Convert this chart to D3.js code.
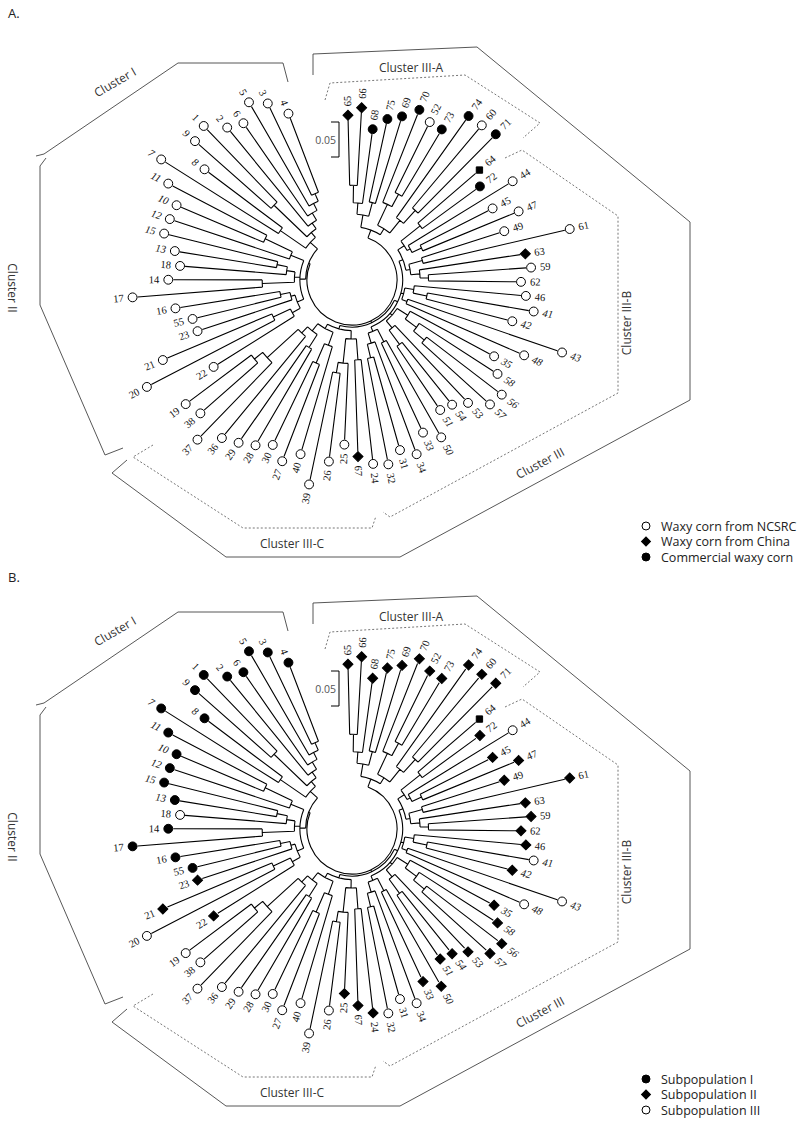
<!DOCTYPE html>
<html>
<head>
<meta charset="utf-8">
<script src="https://cdn.jsdelivr.net/npm/d3@7"></script>
<style>
  body { margin: 0; background: #fff; }
  svg { display: block; }
</style>
</head>
<body>
<svg id="chart" width="806" height="1127"></svg>
<script>
// Accessions in angular order, clockwise from the top of the tree
const leafLabels = [65, 66, 68, 75, 69, 70, 52, 73, 74, 60, 71, 64, 72, 44, 45, 47, 49, 61, 63, 59,
  62, 46, 41, 42, 43, 48, 35, 58, 56, 57, 53, 54, 51, 50, 33, 34, 31, 32, 24, 67,
  25, 26, 39, 40, 27, 30, 28, 29, 36, 37, 38, 19, 22, 20, 21, 23, 55, 16, 17, 14,
  18, 13, 15, 12, 10, 11, 7, 8, 9, 1, 2, 6, 5, 3, 4];
// Distance of each accession from the root (same order as leafLabels)
const leafDist = [0.164, 0.175, 0.146, 0.164, 0.173, 0.190, 0.180, 0.179, 0.216, 0.217, 0.221, 0.169, 0.155, 0.198, 0.154, 0.186, 0.157, 0.248, 0.179, 0.185,
  0.170, 0.178, 0.192, 0.165, 0.246, 0.197, 0.159, 0.176, 0.198, 0.194, 0.170, 0.157, 0.153, 0.187, 0.169, 0.194, 0.181, 0.197, 0.193, 0.181,
  0.164, 0.190, 0.227, 0.188, 0.206, 0.190, 0.202, 0.212, 0.221, 0.246, 0.217, 0.225, 0.162, 0.259, 0.222, 0.161, 0.163, 0.184, 0.243, 0.191,
  0.175, 0.185, 0.205, 0.203, 0.201, 0.225, 0.251, 0.192, 0.228, 0.234, 0.210, 0.201, 0.222, 0.208, 0.183];
// Tree topology: [node distance from root, ...children]; numbers are accessions
const clades = [0,
  [0.012,                                                   // Cluster III-A
    [0.030, [0.046, [0.071, 65, 66], 68], [0.050, 75, 69]],
    [0.022, [0.055, 70, [0.075, 52, 73]], [0.045, 74, [0.070, 60, 71]]]],
  [0.003,
    [0.008,                                                 // Cluster III-B
      [0.014, [0.025, [0.060, 64, 72], [0.030, 44, [0.045, 45, 47]]],
              [0.020, [0.040, 49, 61], [0.033, 63, [0.045, 59, 62]]]],
      [0.012, [0.025, 46, [0.045, 41, 42]], [0.020, 43, 48]],
      [0.012, [0.030, 35, [0.050, 58, [0.070, 56, 57]]], [0.025, 53, [0.050, 54, 51]]],
      [0.015, [0.035, 50, 33], [0.030, 34, [0.050, 31, 32]]]],
    [0.008,                                                 // Cluster III-C
      [0.020, [0.050, 24, 67], [0.055, 25, [0.070, 26, 39]]],
      [0.015, [0.035, 40, [0.065, 27, 30]],
              [0.028, [0.050, 28, 29], [0.040, 36, [0.100, 37, [0.115, 38, 19]]]]]]],
  [0.002,
    [0.010,                                                 // Cluster II
      [0.020, [0.033, 22, [0.060, 20, 21]], [0.026, 23, [0.040, 55, 16]]],
      [0.018, [0.064, 17, 14], [0.030, 18, [0.045, 13, 15]]],
      [0.030, 12, [0.073, 10, 11]]],
    [0.016,                                                 // Cluster I
      [0.060, 7, 8],
      [0.025, [0.090, 9, 1], [0.035, 2, [0.047, 6, [0.058, 5, [0.070, 3, 4]]]]]]]
];
// Panel A groups
const ncsrc = [1, 2, 3, 4, 5, 6, 7, 8, 9, 10, 11, 12, 13, 14, 15, 16, 17, 18, 19, 20, 21, 22, 23, 24, 25, 26, 27, 28, 29, 30,
  31, 32, 33, 34, 35, 36, 37, 38, 39, 40, 41, 42, 43, 44, 45, 46, 47, 48, 49, 50, 51, 52, 53, 54, 55, 56, 57, 58, 59, 60, 61, 62];
const china = [63, 64, 65, 66, 67];
const commercial = [68, 69, 70, 71, 72, 73, 74, 75];
// Panel B groups
const subpop1 = [1, 2, 3, 4, 5, 6, 7, 8, 9, 10, 11, 12, 13, 14, 15, 16, 17, 55];
const subpop2 = [21, 22, 23, 24, 25, 33, 35, 42, 45, 46, 47, 49, 50, 51, 52, 53, 54, 56, 57, 58, 59, 60, 61, 62, 63, 64, 65, 66, 67,
  68, 69, 70, 71, 72, 73, 74, 75];
const subpop3 = [18, 19, 20, 26, 27, 28, 29, 30, 31, 32, 34, 36, 37, 38, 39, 40, 41, 43, 44, 48];
const italicLabels = [7, 8, 9, 10, 11, 12, 13, 15, 33, 35, 41, 42, 43, 48, 50, 51, 53, 54, 56, 57, 58];

const svg = d3.select("#chart");
const serif = "'Liberation Serif', 'DejaVu Serif', serif";
const sans = "'Open Sans', 'Noto Sans', sans-serif";

// Scales: leaf index -> angle, genetic distance -> radius
const angle = d3.scaleLinear().domain([0, leafLabels.length - 1]).range([-91.4, 249.1].map(d => d * Math.PI / 180));
const radius = d3.scaleLinear().domain([0, 0.05]).range([45, 80]);

// Build the hierarchy once
const root = d3.hierarchy(clades, d => Array.isArray(d) ? d.slice(1) : null);
root.eachAfter(n => {
  if (n.children) {
    n.dist = n.data[0];
    n.theta = d3.mean(n.children, c => c.theta);
  } else {
    const i = leafLabels.indexOf(n.data);
    n.dist = leafDist[i];
    n.theta = angle(i);
  }
});

// Bracket outlines relative to the tree centre [dx, dy]
const solidBrackets = [
  { name: "Cluster I", pts: [[-64, -198], [-69, -217], [-174, -217], [-308, -126], [-316, -124]], label: [-237, -198], rot: -30 },
  { name: "Cluster II", pts: [[-306, -122], [-312, -114], [-312, 25], [-247, 175], [-229, 168]], label: [-340, 8], rot: 90 },
  { name: "Cluster III", pts: [[-225, 180], [-240, 193], [-126, 277], [48, 277], [338, 120], [338, -58], [125, -233], [-39, -226], [-39, -205]], label: [188, 183], rot: -28 }
];
const dashedBrackets = [
  { name: "Cluster III-A", pts: [[-27, -180], [-22, -197], [113, -205], [188, -157], [171, -142]], label: [59, -213], rot: 0 },
  { name: "Cluster III-B", pts: [[153, -122], [170, -130], [266, -64], [266, 113], [38, 237], [31, 232]], label: [274, 43], rot: -90 },
  { name: "Cluster III-C", pts: [[-199, 165], [-219, 177], [-109, 248], [20, 248], [24, 236]], label: [-60, 263], rot: 0 }
];

function drawPanel(cx, cy, title, titleY, groups, legendY) {
  const g = svg.append("g");
  const pt = (r, t) => [cx + r * Math.cos(t), cy + r * Math.sin(t)];

  g.append("text").attr("x", 8).attr("y", titleY).text(title)
    .attr("font-family", sans).attr("font-size", 13).attr("fill", "#222");

  // Branches: radial segments plus arcs at each internal node
  const path = d3.path();
  root.descendants().forEach(n => {
    if (n.parent) {
      const [x0, y0] = pt(radius(n.parent.dist), n.theta);
      const [x1, y1] = pt(radius(n.dist), n.theta);
      path.moveTo(x0, y0); path.lineTo(x1, y1);
    }
    if (n.children) {
      const r = radius(n.dist);
      const [a0, a1] = d3.extent(n.children, c => c.theta);
      const [sx, sy] = pt(r, a0);
      path.moveTo(sx, sy); path.arc(cx, cy, r, a0, a1);
    }
  });
  g.append("path").attr("d", path.toString()).attr("fill", "none")
    .attr("stroke", "#000").attr("stroke-width", 1.1);

  // Leaf markers and labels
  root.leaves().forEach(n => {
    const r = radius(n.dist) + 5;
    const [x, y] = pt(r, n.theta);
    const grp = groups.find(gr => gr.ids.includes(n.data));
    const shape = n.data === 64 ? "square" : grp.shape;
    const sym = d3.symbol()
      .type(shape === "circle" ? d3.symbolCircle : d3.symbolSquare)
      .size(shape === "circle" ? 62 : shape === "square" ? 40 : 50);
    g.append("path").attr("d", sym())
      .attr("transform", `translate(${x},${y})` + (shape === "diamond" ? " rotate(45)" : ""))
      .attr("fill", grp.filled ? "#000" : "#fff")
      .attr("stroke", "#000").attr("stroke-width", 1);

    const deg = n.theta * 180 / Math.PI;
    const flip = deg > 90 && deg < 270;
    const [lx, ly] = pt(r + 9, n.theta);
    g.append("text")
      .attr("transform", `translate(${lx},${ly}) rotate(${flip ? deg - 180 : deg})`)
      .attr("text-anchor", flip ? "end" : "start")
      .attr("dominant-baseline", "central")
      .attr("font-family", serif).attr("font-size", 10.5)
      .attr("font-style", italicLabels.includes(n.data) ? "italic" : "normal")
      .attr("fill", "#111")
      .text(n.data);
  });

  // Scale bar
  const barTop = cy - 158, barLen = radius(0.05) - radius(0);
  g.append("path")
    .attr("d", `M${cx - 21},${barTop}H${cx - 13}V${barTop + barLen}H${cx - 21}`)
    .attr("fill", "none").attr("stroke", "#000").attr("stroke-width", 1);
  g.append("text").attr("x", cx - 16).attr("y", barTop + barLen / 2 + 4)
    .attr("text-anchor", "end").attr("font-family", sans).attr("font-size", 10.5)
    .attr("fill", "#555").text("0.05");

  // Cluster brackets
  const line = d3.line().x(d => cx + d[0]).y(d => cy + d[1]);
  solidBrackets.forEach(b => {
    g.append("path").attr("d", line(b.pts)).attr("fill", "none")
      .attr("stroke", "#444").attr("stroke-width", 0.9);
  });
  dashedBrackets.forEach(b => {
    g.append("path").attr("d", line(b.pts)).attr("fill", "none")
      .attr("stroke", "#666").attr("stroke-width", 0.9).attr("stroke-dasharray", "2,2");
  });
  solidBrackets.concat(dashedBrackets).forEach(b => {
    g.append("text")
      .attr("transform", `translate(${cx + b.label[0]},${cy + b.label[1]}) rotate(${b.rot})`)
      .attr("text-anchor", "middle").attr("dominant-baseline", "central")
      .attr("font-family", sans).attr("font-size", 12).attr("fill", "#333")
      .text(b.name);
  });

  // Legend
  groups.forEach((gr, i) => {
    const y = legendY + i * 15.5;
    const sym = d3.symbol().type(gr.shape === "circle" ? d3.symbolCircle : d3.symbolSquare)
      .size(gr.shape === "circle" ? 50 : 40);
    g.append("path").attr("d", sym())
      .attr("transform", `translate(646,${y})` + (gr.shape === "diamond" ? " rotate(45)" : ""))
      .attr("fill", gr.filled ? "#000" : "#fff").attr("stroke", "#000").attr("stroke-width", 1);
    g.append("text").attr("x", 661).attr("y", y).attr("dominant-baseline", "central")
      .attr("font-family", sans).attr("font-size", 12.5).attr("fill", "#222").text(gr.name);
  });
}

drawPanel(352, 280, "A.", 18, [
  { name: "Waxy corn from NCSRC", ids: ncsrc, shape: "circle", filled: false },
  { name: "Waxy corn from China", ids: china, shape: "diamond", filled: true },
  { name: "Commercial waxy corn", ids: commercial, shape: "circle", filled: true }
], 526);

drawPanel(352, 829, "B.", 582, [
  { name: "Subpopulation I", ids: subpop1, shape: "circle", filled: true },
  { name: "Subpopulation II", ids: subpop2, shape: "diamond", filled: true },
  { name: "Subpopulation III", ids: subpop3, shape: "circle", filled: false }
], 1079);
</script>
</body>
</html>
